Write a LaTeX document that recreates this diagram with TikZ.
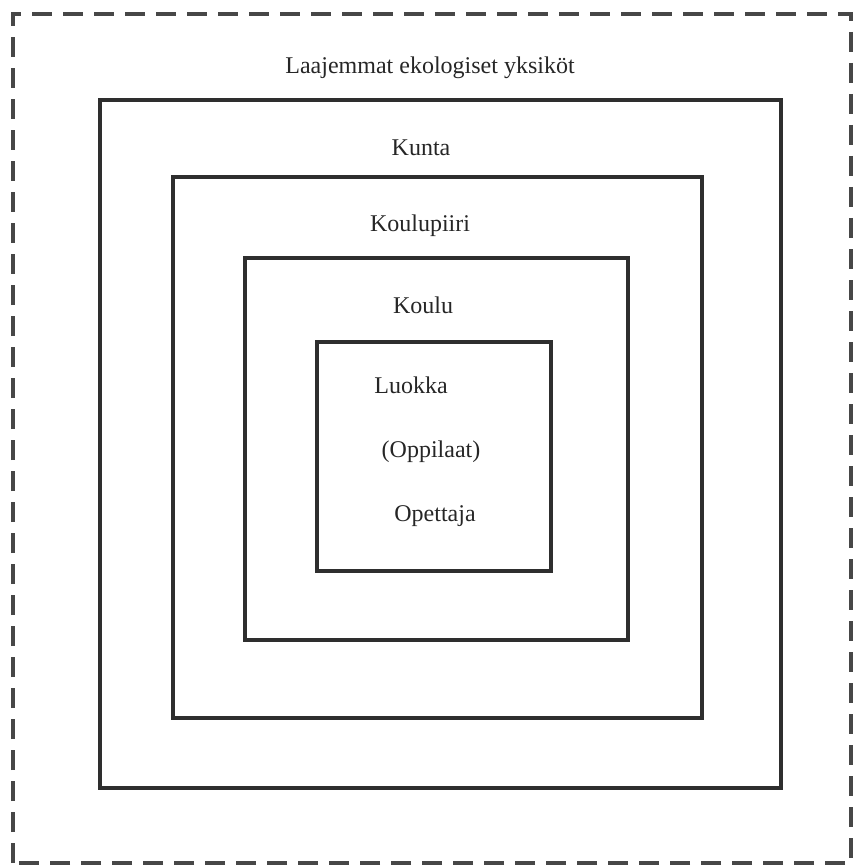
\documentclass[tikz,border=0pt]{standalone}
\usepackage{fontspec}
\setmainfont{Liberation Serif}
\begin{document}
\begin{tikzpicture}[x=1pt,y=-1pt,
  frame/.style={draw=black!82,line width=3.6pt,line join=miter},
  outerframe/.style={draw=black!72,line width=3.8pt,dash pattern=on 20pt off 11pt},
  lbl/.style={font=\fontsize{24}{28}\selectfont,text=black!85,inner sep=0pt}]
  \useasboundingbox (0,0) rectangle (856,866);
  % surrounding ecological units (dashed)
  \draw[outerframe] (13,863) -- (13,14) -- (851,14) -- (851,863) -- cycle;
  % nested levels
  \draw[frame] (100,100) rectangle (781,788);
  \draw[frame] (173,177) rectangle (702,718);
  \draw[frame] (245,258) rectangle (628,640);
  \draw[frame] (317,342) rectangle (551,571);
  % labels
  \node[lbl] (laaj) at (430,68) {Laajemmat ekologiset yksiköt};
  \node[lbl] (kunta) at (421,148) {Kunta};
  \node[lbl] (piiri) at (420,226) {Koulupiiri};
  \node[lbl] (koulu) at (423,305) {Koulu};
  \node[lbl] (luokka) at (411,385) {Luokka};
  \node[lbl] (opp) at (431,452) {(Oppilaat)};
  \node[lbl] (ope) at (435,516) {Opettaja};
\end{tikzpicture}
\end{document}
